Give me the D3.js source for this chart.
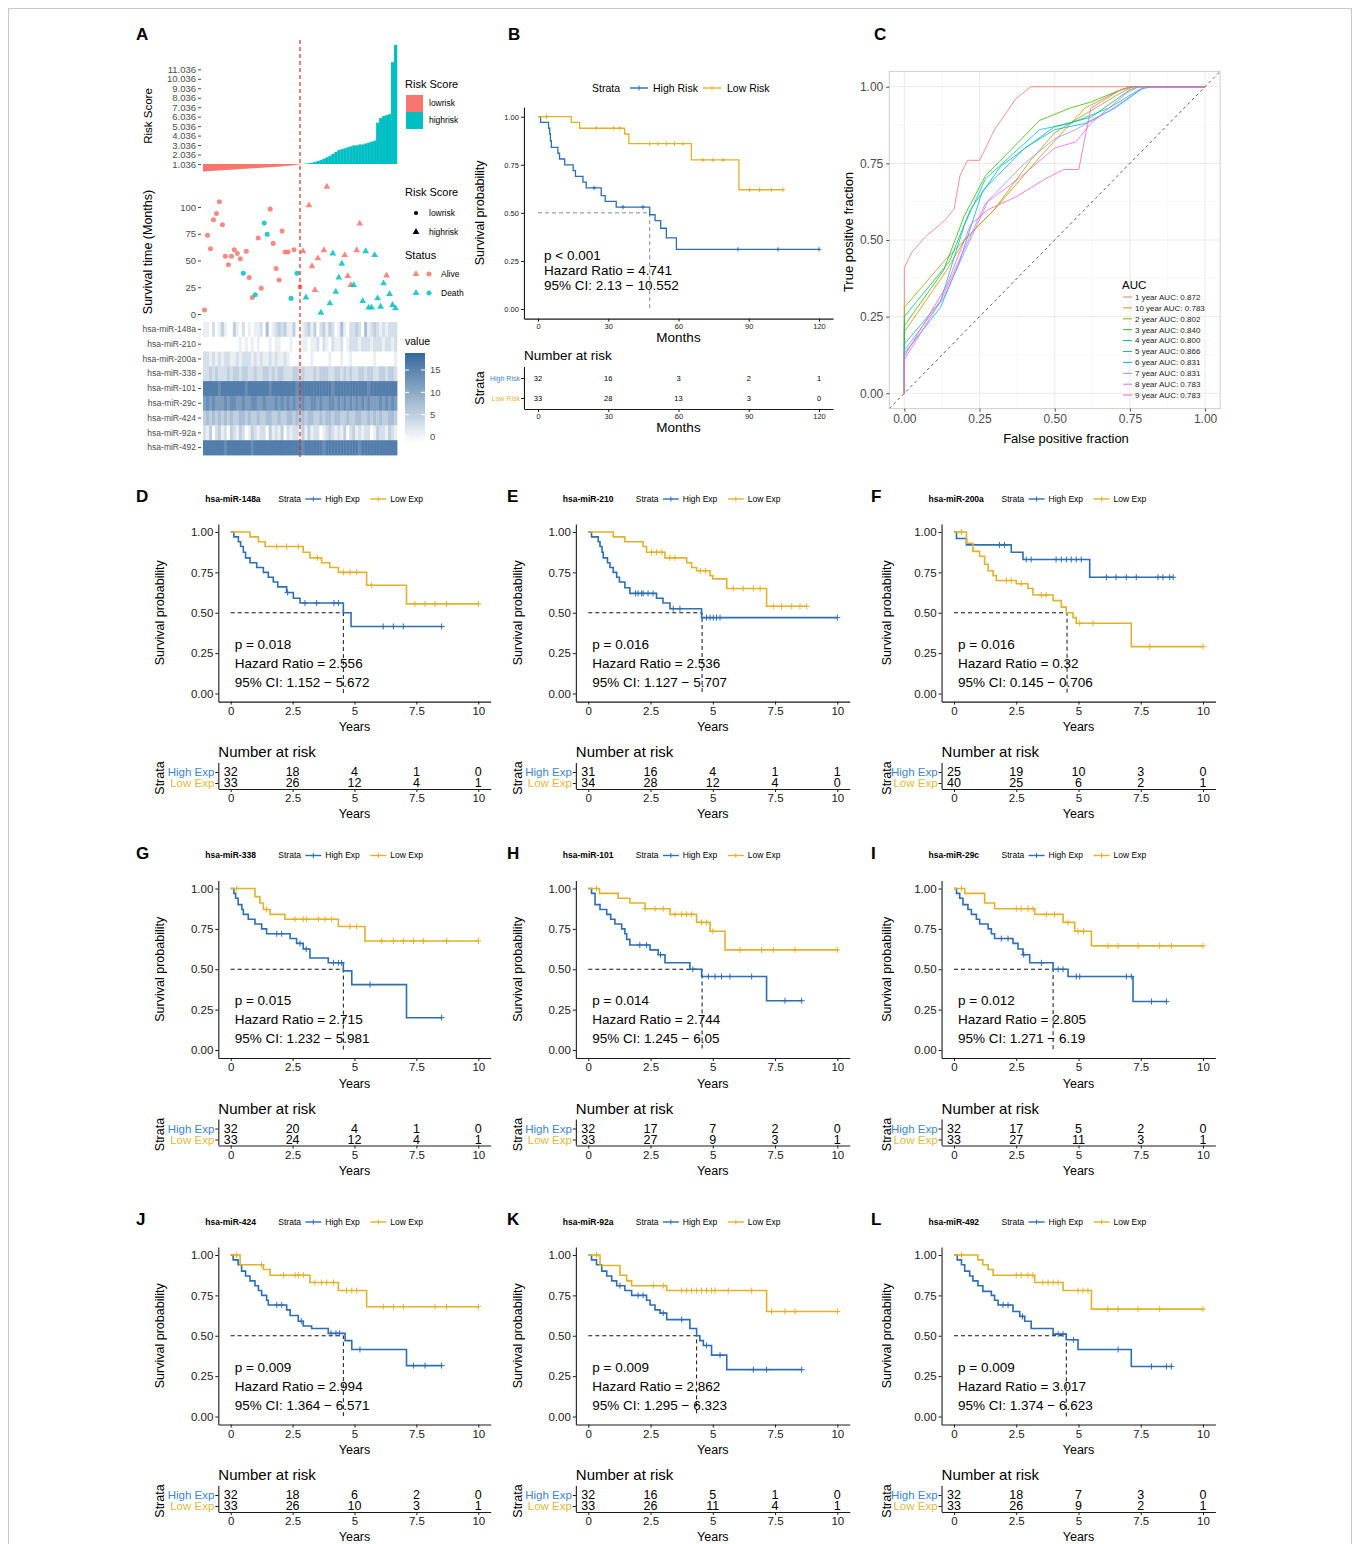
<!DOCTYPE html>
<html>
<head>
<meta charset="utf-8">
<script src="https://cdn.jsdelivr.net/npm/d3@7"></script>
<style>
  body { margin: 0; background: #fff; }
  svg { display: block; }
</style>
</head>
<body>
<svg id="fig" width="1360" height="1544"></svg>
<script>
// ---------------- Panel A data ----------------
const riskLow = [0.25,0.27,0.3,0.32,0.34,0.36,0.38,0.4,0.42,0.44,0.46,0.48,0.5,0.52,0.54,0.56,0.58,0.6,0.62,0.64,0.66,0.68,0.7,0.72,0.74,0.76,0.79,0.82,0.85,0.88,0.92,0.96,1.0];
const riskHigh = [1.05,1.08,1.12,1.18,1.25,1.35,1.45,1.6,1.75,1.9,2.1,2.3,2.5,2.6,2.7,2.8,2.9,3.0,3.0,3.1,3.1,3.2,3.3,3.4,3.5,5.4,5.9,6.1,6.2,6.3,11.8,13.6];
const riskCut = 1.036;
const riskTicks = [1.036,2.036,3.036,4.036,5.036,6.036,7.036,8.036,9.036,10.036,11.036];
const survLow = [3.7,73.6,61,88,94,105,83.5,54,46,54,60,56.5,51.6,38,58.7,34,15.5,18,71,24,85,74.5,98,66,42.5,31.7,77.6,58,58,14.6,60,38,25.5];
const survHigh = [58.7,15.5,101.5,44.7,22.4,52,1.2,59.6,119,10,56.5,20.8,34,47,55,35.4,27,27,59.6,84.5,12,58.7,6,6,55,14.6,6.8,28.6,36,18.6,8.4,5.3];
const deathLow = [0,0,0,0,0,0,0,0,0,0,0,0,0,1,0,0,0,1,0,0,1,1,0,0,0,0,0,0,0,1,0,1,0];
const deathHigh = [0,1,0,0,0,0,1,0,0,1,1,1,1,1,0,0,0,1,0,0,1,1,1,1,1,1,1,1,0,1,1,1];
const mirNames = ["hsa-miR-148a","hsa-miR-210","hsa-miR-200a","hsa-miR-338","hsa-miR-101","hsa-miR-29c","hsa-miR-424","hsa-miR-92a","hsa-miR-492"];
// one digit per patient, expression value = 2 * digit
const heatRows = [
  "11020 13100 31020 10112 04012 32311 30012 31302 31320 14102 23204 12321 21222",
  "00000 00000 00101 01010 00101 10001 00011 01120 21021 12012 22122 21222 12212",
  "22121 21221 12122 21212 11212 11210 00100 01000 00100 01001 00000 00100 00001",
  "22323 22232 33233 22322 33232 33222 33232 22323 33223 32323 22332 33223 32332",
  "88888 78888 88887 88888 88788 88888 87888 88888 88878 88888 88888 78888 88888",
  "67676 66767 76676 67766 76667 67676 76676 67767 66776 76767 67676 76667 67676",
  "34343 43434 33443 43343 34433 43344 34343 44334 34434 43343 34433 43434 33443",
  "21302 31203 21320 13212 20312 13021 22131 31220 12321 21302 31212 20132 21321",
  "88888 88788 88888 87888 88888 88888 88878 88888 78888 88888 88788 88888 88888"
];
const heatTicks = [0, 5, 10, 15];

// ---------------- Panel B data ----------------
const B_highSteps = [[0,1],[1.1,0.97],[4.5,0.94],[5,0.91],[5.3,0.875],[5.7,0.84],[8.5,0.81],[9.2,0.78],[11.4,0.75],[15,0.72],[16,0.69],[19.2,0.66],[20.6,0.63],[27,0.59],[28.7,0.56],[33.4,0.53],[47.7,0.49],[50,0.46],[52.4,0.42],[54.8,0.37],[59.1,0.31]];
const B_highCens = [24,36.3,44.8,85.4,102.5,120];
const B_lowSteps = [[0,1],[14.2,0.97],[17.8,0.94],[37,0.91],[38.8,0.86],[65.5,0.775],[85.8,0.62]];
const B_lowCens = [3.6,24.9,32.3,34.9,47.7,51.2,54.8,58.3,61.9,70.4,74.7,79,90.4,94.6,99.6,104.6];
const B_riskHigh = [32,16,3,2,1];
const B_riskLow = [33,28,13,3,0];
const B_stats = ["p < 0.001","Hazard Ratio = 4.741","95% CI: 2.13 − 10.552"];
const B_median = 47.7;
const monthTicks = [0,30,60,90,120];

// ---------------- Panel C data ----------------
const rocNames = ["1 year AUC: 0.872","10 year AUC: 0.783","2 year AUC: 0.802","3 year AUC: 0.840","4 year AUC: 0.800","5 year AUC: 0.866","6 year AUC: 0.831","7 year AUC: 0.831","8 year AUC: 0.783","9 year AUC: 0.783"];
const rocY1 = [[0,0],[0,0.41],[0.025,0.46],[0.07,0.51],[0.135,0.565],[0.165,0.6],[0.185,0.71],[0.21,0.76],[0.25,0.76],[0.3,0.86],[0.37,0.96],[0.42,1],[1,1]];
const rocY10 = [[0,0],[0,0.2],[0.14,0.4],[0.2,0.5],[0.3,0.6],[0.45,0.77],[0.6,0.93],[0.72,0.99],[0.75,1],[1,1]];
const rocY2 = [[0,0],[0,0.28],[0.14,0.44],[0.22,0.52],[0.3,0.6],[0.42,0.76],[0.5,0.85],[0.6,0.91],[0.72,0.98],[0.76,1],[1,1]];
const rocY3 = [[0,0],[0,0.22],[0.13,0.4],[0.2,0.58],[0.27,0.71],[0.45,0.89],[0.55,0.93],[0.62,0.95],[0.72,0.99],[0.76,1],[1,1]];
const rocY4 = [[0,0],[0,0.25],[0.15,0.43],[0.22,0.6],[0.32,0.74],[0.5,0.87],[0.62,0.9],[0.75,0.99],[0.78,1],[1,1]];
const rocY5 = [[0,0],[0,0.16],[0.12,0.3],[0.2,0.55],[0.27,0.7],[0.45,0.86],[0.55,0.88],[0.68,0.93],[0.78,0.99],[0.82,1],[1,1]];
const rocY6 = [[0,0],[0,0.13],[0.12,0.28],[0.18,0.42],[0.26,0.66],[0.4,0.8],[0.5,0.86],[0.6,0.88],[0.7,0.93],[0.8,1],[1,1]];
const rocY7 = [[0,0],[0,0.14],[0.13,0.31],[0.2,0.46],[0.28,0.63],[0.4,0.75],[0.5,0.83],[0.57,0.86],[0.68,0.92],[0.8,1],[1,1]];
const rocY8 = [[0,0],[0,0.11],[0.12,0.3],[0.19,0.45],[0.27,0.62],[0.38,0.7],[0.5,0.8],[0.57,0.82],[0.62,0.88],[0.74,0.98],[0.78,1],[1,1]];
const rocY9 = [[0,0],[0,0.12],[0.14,0.35],[0.22,0.55],[0.28,0.6],[0.37,0.64],[0.47,0.7],[0.53,0.73],[0.58,0.73],[0.62,0.93],[0.72,0.99],[0.76,1],[1,1]];
const rocTicks = [0,0.25,0.5,0.75,1];

// ---------------- Panels D-L data (Years) ----------------
const yearTicks = [0,2.5,5,7.5,10];

const D_highSteps = [[0,1],[0.13,0.97],[0.31,0.94],[0.4,0.91],[0.51,0.875],[0.6,0.84],[0.78,0.81],[1.05,0.78],[1.32,0.75],[1.52,0.72],[1.72,0.69],[1.9,0.66],[2.26,0.625],[2.53,0.59],[2.8,0.56],[4.55,0.5],[4.86,0.415]];
const D_highCens = [2.3,3.0,3.47,4.17,4.35,6.16,6.57,6.97,8.52];
const D_lowSteps = [[0,1],[0.78,0.97],[1.12,0.94],[1.39,0.91],[2.93,0.875],[3.2,0.84],[3.67,0.81],[4.0,0.78],[4.35,0.75],[5.49,0.67],[7.1,0.555]];
const D_lowCens = [1.86,2.26,2.73,3.5,4.55,4.82,5.09,5.69,7.44,7.85,8.25,8.72,10];
const D_riskHigh = [32,18,4,1,0], D_riskLow = [33,26,12,4,1];
const D_stats = ["p = 0.018","Hazard Ratio = 2.556","95% CI: 1.152 − 5.672"];
const D_median = 4.55;

const E_highSteps = [[0,1],[0.13,0.97],[0.4,0.94],[0.47,0.91],[0.55,0.875],[0.6,0.84],[0.77,0.81],[0.87,0.78],[1.0,0.75],[1.14,0.72],[1.25,0.69],[1.47,0.655],[1.67,0.62],[2.74,0.59],[3.0,0.56],[3.28,0.525],[4.55,0.47]];
const E_highCens = [1.9,2.0,2.14,2.2,2.4,2.6,3.41,3.68,4.75,4.89,5.02,5.15,5.29,10];
const E_lowSteps = [[0,1],[1.0,0.97],[1.47,0.94],[2.2,0.91],[2.34,0.875],[3.08,0.84],[3.95,0.81],[4.15,0.78],[4.35,0.76],[4.89,0.73],[5.0,0.71],[5.56,0.65],[7.16,0.54]];
const E_lowCens = [2.54,2.74,2.95,3.28,3.48,4.5,4.7,5.82,6.22,6.63,6.9,7.43,7.76,8.17,8.5,8.77];
const E_riskHigh = [31,16,4,1,1], E_riskLow = [34,28,12,4,0];
const E_stats = ["p = 0.016","Hazard Ratio = 2.536","95% CI: 1.127 − 5.707"];
const E_median = 4.57;

const F_highSteps = [[0,1],[0.1,0.96],[0.5,0.92],[2.3,0.875],[2.77,0.83],[5.45,0.72]];
const F_highCens = [1.83,2.03,2.9,3.1,4.1,4.31,4.51,4.71,4.91,5.11,6.12,6.51,6.92,7.32,8.19,8.39,8.66,8.8];
const F_lowSteps = [[0,1],[0.5,0.93],[0.76,0.88],[1.03,0.85],[1.23,0.8],[1.37,0.76],[1.57,0.73],[1.7,0.7],[2.5,0.68],[2.97,0.65],[3.17,0.61],[3.98,0.575],[4.31,0.535],[4.51,0.5],[4.78,0.47],[4.91,0.435],[7.12,0.29]];
const F_lowCens = [0.3,2.1,2.3,2.7,3.5,3.7,5.05,5.58,7.86,10];
const F_riskHigh = [25,19,10,3,0], F_riskLow = [40,25,6,2,1];
const F_stats = ["p = 0.016","Hazard Ratio = 0.32","95% CI: 0.145 − 0.706"];
const F_median = 4.54;

const G_highSteps = [[0,1],[0.13,0.97],[0.2,0.94],[0.3,0.9],[0.45,0.87],[0.51,0.84],[0.71,0.81],[0.98,0.78],[1.25,0.75],[1.45,0.72],[2.4,0.69],[2.66,0.66],[2.93,0.625],[3.2,0.57],[3.94,0.54],[4.55,0.49],[4.89,0.405],[7.1,0.2]];
const G_highCens = [1.86,2.06,2.8,3.05,4.15,4.35,4.48,5.63,8.52];
const G_lowSteps = [[0,1],[0.98,0.95],[1.18,0.91],[1.32,0.87],[1.59,0.84],[2.19,0.81],[4.35,0.765],[5.42,0.675]];
const G_lowCens = [0.24,1.45,2.6,2.93,3.07,3.54,3.81,4.08,4.82,5.09,6.1,6.57,6.97,7.38,7.78,8.72,10];
const G_riskHigh = [32,20,4,1,0], G_riskLow = [33,24,12,4,1];
const G_stats = ["p = 0.015","Hazard Ratio = 2.715","95% CI: 1.232 − 5.981"];
const G_median = 4.55;

const H_highSteps = [[0,1],[0.13,0.97],[0.27,0.9],[0.47,0.87],[0.74,0.84],[0.9,0.81],[1.07,0.78],[1.34,0.75],[1.47,0.72],[1.54,0.685],[1.67,0.65],[2.48,0.62],[2.81,0.59],[3.08,0.54],[4.08,0.5],[4.55,0.455],[7.16,0.305]];
const H_highCens = [2.07,2.34,2.9,4.2,4.82,5.09,5.35,5.69,6.56,7.9,8.57];
const H_lowSteps = [[0,1],[0.45,0.97],[1.2,0.94],[1.67,0.91],[2.28,0.875],[3.28,0.84],[4.35,0.79],[4.89,0.735],[5.49,0.62]];
const H_lowCens = [0.33,2.28,2.68,3.01,3.48,3.75,3.95,4.15,4.55,4.75,5.0,6.09,6.96,7.43,8.3,10];
const H_riskHigh = [32,17,7,2,0], H_riskLow = [33,27,9,3,1];
const H_stats = ["p = 0.014","Hazard Ratio = 2.744","95% CI: 1.245 − 6.05"];
const H_median = 4.57;

const I_highSteps = [[0,1],[0.1,0.97],[0.23,0.94],[0.36,0.9],[0.56,0.87],[0.7,0.84],[0.9,0.81],[1.03,0.78],[1.37,0.75],[1.5,0.72],[1.63,0.69],[2.37,0.66],[2.57,0.625],[2.77,0.59],[3.04,0.54],[3.98,0.5],[4.58,0.455],[7.19,0.3]];
const I_highCens = [1.9,2.17,2.8,3.51,4.18,4.38,4.91,5.05,6.92,7.12,7.93,8.53];
const I_lowSteps = [[0,1],[0.43,0.97],[1.23,0.91],[1.63,0.875],[3.24,0.84],[4.38,0.79],[4.85,0.735],[5.52,0.645]];
const I_lowCens = [0.3,2.5,2.7,2.97,3.17,3.71,4.04,4.58,4.98,5.2,6.18,6.59,7.39,8.26,8.73,10];
const I_riskHigh = [32,17,5,2,0], I_riskLow = [33,27,11,3,1];
const I_stats = ["p = 0.012","Hazard Ratio = 2.805","95% CI: 1.271 − 6.19"];
const I_median = 3.98;

const J_highSteps = [[0,1],[0.1,0.97],[0.3,0.94],[0.44,0.9],[0.6,0.87],[0.78,0.84],[0.98,0.81],[1.12,0.78],[1.25,0.75],[1.45,0.72],[1.52,0.69],[2.26,0.66],[2.4,0.625],[2.73,0.59],[2.93,0.56],[3.27,0.545],[3.94,0.515],[4.62,0.47],[4.89,0.415],[7.1,0.315]];
const J_highCens = [1.86,2.06,2.85,4.05,4.25,4.4,5.22,7.38,7.85,8.52];
const J_lowSteps = [[0,1],[0.38,0.94],[1.32,0.91],[1.59,0.875],[3.2,0.83],[4.35,0.78],[5.49,0.68]];
const J_lowCens = [0.24,1.25,2.13,2.6,2.73,2.93,3.4,3.67,3.88,4.15,4.68,4.89,5.09,6.16,6.57,6.97,8.25,8.72,10];
const J_riskHigh = [32,18,6,2,0], J_riskLow = [33,26,10,3,1];
const J_stats = ["p = 0.009","Hazard Ratio = 2.994","95% CI: 1.364 − 6.571"];
const J_median = 4.55;

const K_highSteps = [[0,1],[0.13,0.97],[0.33,0.94],[0.54,0.9],[0.74,0.87],[0.94,0.84],[1.14,0.81],[1.47,0.78],[1.74,0.75],[2.34,0.72],[2.48,0.69],[2.68,0.66],[2.88,0.64],[3.15,0.6],[4.08,0.545],[4.35,0.5],[4.48,0.47],[4.62,0.44],[4.95,0.38],[5.56,0.29]];
const K_highCens = [1.27,2.0,2.2,3.01,3.75,4.75,5.29,6.63,7.16,8.57];
const K_lowSteps = [[0,1],[0.47,0.935],[1.27,0.875],[1.54,0.84],[1.74,0.81],[3.15,0.78],[7.16,0.65]];
const K_lowCens = [0.33,2.61,3.01,3.75,3.95,4.15,4.35,4.55,4.75,4.95,5.09,5.62,6.56,7.36,7.9,8.3,10];
const K_riskHigh = [32,16,5,1,0], K_riskLow = [33,26,11,4,1];
const K_stats = ["p = 0.009","Hazard Ratio = 2.862","95% CI: 1.295 − 6.323"];
const K_median = 4.35;

const L_highSteps = [[0,1],[0.13,0.97],[0.3,0.94],[0.43,0.9],[0.63,0.87],[0.76,0.84],[0.96,0.81],[1.16,0.775],[1.5,0.75],[1.63,0.72],[1.77,0.69],[2.37,0.65],[2.64,0.62],[2.84,0.59],[3.1,0.545],[3.98,0.51],[4.51,0.475],[4.98,0.415],[7.12,0.31]];
const L_highCens = [1.97,2.17,2.75,4.18,4.38,4.8,6.59,7.93,8.53,8.73];
const L_lowSteps = [[0,1],[0.96,0.97],[1.16,0.94],[1.37,0.91],[1.57,0.875],[3.24,0.83],[4.38,0.78],[5.52,0.665]];
const L_lowCens = [0.3,2.5,2.7,2.97,3.17,3.57,3.78,3.98,4.18,4.98,5.18,5.38,6.18,6.59,7.39,8.26,10];
const L_riskHigh = [32,18,7,3,0], L_riskLow = [33,26,9,2,1];
const L_stats = ["p = 0.009","Hazard Ratio = 3.017","95% CI: 1.374 − 6.623"];
const L_median = 4.51;

// ---------------- styles ----------------
const FONT = '"Liberation Sans", Arial, Helvetica, sans-serif';
const RED = "#F8766D", TEAL = "#00BFC4";
const BLUE = "#2E6EB3", GOLD = "#E2B22C";
const BLUE_LAB = "#3C86CF", GOLD_LAB = "#E4B83A";
const rocColors = ["#F8766D","#D89000","#A3A500","#39B600","#00BF7D","#00BFC4","#00B0F6","#9590FF","#E76BF3","#FF62BC"];

const svg = d3.select("#fig").attr("font-family", FONT);

svg.append("rect").attr("x", 8.5).attr("y", 8.5).attr("width", 1343).attr("height", 1600)
    .attr("fill", "none").attr("stroke", "#c8c8c8");

function label(x, y, str, size, o) {
    o = o || {};
    let t = svg.append("text").attr("x", x).attr("y", y).attr("font-size", size)
        .attr("fill", o.fill || "#000").text(str);
    if (o.anchor) t.attr("text-anchor", o.anchor);
    if (o.weight) t.attr("font-weight", o.weight);
    if (o.mid) t.attr("dy", "0.35em");
    if (o.rotate) t.attr("transform", "rotate(-90," + x + "," + y + ")");
    return t;
}

function axisStyle(sel, size, fill, stroke) {
    sel.attr("font-family", FONT).attr("font-size", size);
    sel.selectAll(".tick text").attr("fill", fill);
    sel.selectAll(".tick line").attr("stroke", stroke);
    sel.select(".domain").attr("stroke", stroke);
}

function survAt(steps, t) {
    let s = 1;
    steps.forEach(function (d) { if (d[0] <= t) s = d[1]; });
    return s;
}

// panel letters
label(136, 40, "A", 17, { weight: "bold" });
label(508, 40, "B", 17, { weight: "bold" });
label(874, 40, "C", 17, { weight: "bold" });

// ================= Panel A =================
function drawPanelA() {
    let n = riskLow.length + riskHigh.length;
    let scores = riskLow.concat(riskHigh);
    let surv = survLow.concat(survHigh);
    let death = deathLow.concat(deathHigh);
    let hx = d3.scaleBand().domain(d3.range(n)).range([203, 397]);
    let bw = hx.bandwidth();

    // risk score bars
    let ry = d3.scaleLinear().domain([riskCut, 11.036]).range([164, 69.3]);
    svg.append("g").selectAll("rect").data(scores).enter().append("rect")
        .attr("x", (d, i) => hx(i))
        .attr("width", bw + 0.3)
        .attr("y", d => Math.min(ry(d), ry(riskCut)))
        .attr("height", d => Math.abs(ry(d) - ry(riskCut)))
        .attr("fill", (d, i) => i < riskLow.length ? RED : TEAL);
    let ga = svg.append("g").attr("transform", "translate(201,0)")
        .call(d3.axisLeft(ry).tickValues(riskTicks).tickFormat(d3.format(".3f")).tickSize(3).tickPadding(2));
    ga.select(".domain").remove();
    axisStyle(ga, 9.5, "#4d4d4d", "#4d4d4d");
    label(148, 116, "Risk Score", 11.5, { anchor: "middle", rotate: true, mid: true });

    // risk score legend
    label(405, 84, "Risk Score", 11, { mid: true });
    svg.append("rect").attr("x", 406).attr("y", 95).attr("width", 17).attr("height", 17).attr("fill", RED);
    svg.append("rect").attr("x", 406).attr("y", 112).attr("width", 17).attr("height", 17).attr("fill", TEAL);
    label(429, 103.5, "lowrisk", 8.5, { mid: true });
    label(429, 120.5, "highrisk", 8.5, { mid: true });

    // survival scatter
    let sy = d3.scaleLinear().domain([0, 100]).range([314, 207]);
    let circ = d3.symbol().type(d3.symbolCircle).size(20);
    let tri = d3.symbol().type(d3.symbolTriangle).size(20);
    svg.append("g").selectAll("path").data(surv).enter().append("path")
        .attr("d", (d, i) => i < riskLow.length ? circ() : tri())
        .attr("transform", (d, i) => "translate(" + (hx(i) + bw / 2) + "," + sy(d) + ")")
        .attr("fill", (d, i) => death[i] ? TEAL : RED)
        .attr("opacity", 0.85);
    let gs = svg.append("g").attr("transform", "translate(201,0)")
        .call(d3.axisLeft(sy).tickValues([0, 25, 50, 75, 100]).tickSize(3).tickPadding(2));
    gs.select(".domain").remove();
    axisStyle(gs, 9.5, "#4d4d4d", "#4d4d4d");
    label(148, 252, "Survival time (Months)", 12.5, { anchor: "middle", rotate: true, mid: true });

    // scatter legend
    label(405, 192, "Risk Score", 11, { mid: true });
    svg.append("path").attr("d", d3.symbol().type(d3.symbolCircle).size(14)()).attr("transform", "translate(416,213)");
    svg.append("path").attr("d", d3.symbol().type(d3.symbolTriangle).size(20)()).attr("transform", "translate(416,232)");
    label(429, 213, "lowrisk", 8.5, { mid: true });
    label(429, 232, "highrisk", 8.5, { mid: true });
    label(405, 255, "Status", 11, { mid: true });
    [[274, RED, "Alive"], [293, TEAL, "Death"]].forEach(function (r) {
        svg.append("path").attr("d", tri()).attr("transform", "translate(416," + r[0] + ")").attr("fill", r[1]).attr("opacity", 0.85);
        svg.append("path").attr("d", circ()).attr("transform", "translate(429," + r[0] + ")").attr("fill", r[1]).attr("opacity", 0.85);
        label(441, r[0], r[2], 8.5, { mid: true });
    });

    // heatmap
    let hy = d3.scaleBand().domain(mirNames).range([322, 455]);
    let hc = d3.scaleLinear().domain([0, 19]).range(["#ffffff", "#33669b"]);
    let cells = [];
    heatRows.forEach(function (row, r) {
        row.replace(/ /g, "").split("").forEach(function (ch, j) {
            cells.push({ r: mirNames[r], j: j, v: 2 * (+ch) });
        });
    });
    svg.append("g").selectAll("rect").data(cells).enter().append("rect")
        .attr("x", d => hx(d.j)).attr("y", d => hy(d.r))
        .attr("width", bw + 0.4).attr("height", hy.bandwidth() + 0.4)
        .attr("fill", d => hc(d.v));
    let gh = svg.append("g").attr("transform", "translate(201,0)")
        .call(d3.axisLeft(hy).tickSize(3).tickPadding(2));
    gh.select(".domain").remove();
    axisStyle(gh, 8.5, "#4d4d4d", "#4d4d4d");

    // heat legend
    label(405, 341, "value", 10.5, { mid: true });
    let grad = svg.append("defs").append("linearGradient").attr("id", "hgrad")
        .attr("x1", 0).attr("x2", 0).attr("y1", 1).attr("y2", 0);
    grad.append("stop").attr("offset", "0%").attr("stop-color", hc(-1.3));
    grad.append("stop").attr("offset", "100%").attr("stop-color", hc(18.8));
    svg.append("rect").attr("x", 405).attr("y", 353).attr("width", 20).attr("height", 90).attr("fill", "url(#hgrad)");
    let ly = d3.scaleLinear().domain([0, 15]).range([437, 370]);
    heatTicks.forEach(function (v) {
        svg.append("line").attr("x1", 405).attr("x2", 409).attr("y1", ly(v)).attr("y2", ly(v)).attr("stroke", "#fff");
        svg.append("line").attr("x1", 421).attr("x2", 425).attr("y1", ly(v)).attr("y2", ly(v)).attr("stroke", "#fff");
        label(430, ly(v), String(v), 9.5, { mid: true, fill: "#4d4d4d" });
    });

    // cutoff line
    let cx = hx(riskLow.length - 1) + bw / 2;
    svg.append("line").attr("x1", cx).attr("x2", cx).attr("y1", 40).attr("y2", 457)
        .attr("stroke", "#d7301f").attr("stroke-width", 1.2).attr("stroke-dasharray", "4,3");
}
drawPanelA();

// ================= KM drawing =================
function drawKM(P) {
    let g = svg.append("g");
    let xs = d3.scaleLinear().domain([0, P.xMax]).range([P.x0, P.x1]);
    let ys = d3.scaleLinear().domain([0, 1]).range([P.y0, P.y1]);
    let ex = 0.05 * P.xMax;
    let xAx = d3.scaleLinear().domain([-ex, P.xMax + ex]).range([xs(-ex), xs(P.xMax + ex)]);
    let yAx = d3.scaleLinear().domain([-0.05, 1.05]).range([ys(-0.05), ys(1.05)]);
    let left = xAx.range()[0], base = yAx.range()[0];

    let gy = g.append("g").attr("transform", "translate(" + left + ",0)")
        .call(d3.axisLeft(yAx).tickValues([0, 0.25, 0.5, 0.75, 1]).tickFormat(d3.format(".2f"))
            .tickSize(3).tickPadding(2).tickSizeOuter(0));
    axisStyle(gy, P.tick, "#1a1a1a", "#1a1a1a");
    let gx = g.append("g").attr("transform", "translate(0," + base + ")")
        .call(d3.axisBottom(xAx).tickValues(P.xTicks).tickFormat(d => String(d))
            .tickSize(3).tickPadding(2).tickSizeOuter(0));
    axisStyle(gx, P.tick, "#1a1a1a", "#1a1a1a");
    gy.select(".domain").attr("stroke-width", 1.1);
    gx.select(".domain").attr("stroke-width", 1.1);

    // median line
    g.append("path").attr("d", "M" + xs(0) + "," + ys(0.5) + "H" + xs(P.median) + "V" + ys(0))
        .attr("fill", "none").attr("stroke", P.medColor).attr("stroke-width", 1)
        .attr("stroke-dasharray", "4,3");

    // curves
    let line = d3.line().x(d => xs(d[0])).y(d => ys(d[1])).curve(d3.curveStepAfter);
    P.curves.forEach(function (c) {
        let pts = c.steps.slice();
        let end = Math.max(pts[pts.length - 1][0], d3.max(c.cens));
        pts.push([end, pts[pts.length - 1][1]]);
        g.append("path").datum(pts).attr("d", line).attr("fill", "none")
            .attr("stroke", c.color).attr("stroke-width", P.lw);
        let m = P.cm;
        g.append("g").selectAll("path").data(c.cens).enter().append("path")
            .attr("d", function (t) {
                let x = xs(t), y = ys(survAt(c.steps, t));
                return "M" + (x - m) + "," + y + "H" + (x + m) + "M" + x + "," + (y - m) + "V" + (y + m);
            })
            .attr("stroke", c.color).attr("stroke-width", 1).attr("fill", "none");
    });

    // stats
    P.stats.forEach(function (s, i) {
        label(P.x0 + P.statsDx, P.statsY[i], s, P.statsSize, { mid: true });
    });

    // titles
    let midX = (left + xAx.range()[1]) / 2;
    label(P.ylabX, (P.y0 + P.y1) / 2, "Survival probability", 12.5, { anchor: "middle", rotate: true, mid: true });
    label(midX, P.xlabY, P.xlab, P.xlabSize, { anchor: "middle", mid: true });

    // risk table
    label(left, P.narY, "Number at risk", P.narSize, { mid: true });
    let rs = d3.scalePoint().domain(P.names).range(P.rowY);
    P.risk.forEach(function (arr, i) {
        arr.forEach(function (n, j) {
            label(xs(P.xTicks[j]), P.rowY[i], String(n), P.numSize, { anchor: "middle", mid: true });
        });
    });
    let gt = g.append("g").attr("transform", "translate(" + left + ",0)")
        .call(d3.axisLeft(rs).tickSize(3).tickPadding(1));
    gt.select(".domain").remove();
    axisStyle(gt, P.rowLabSize, "#000", "#1a1a1a");
    gt.selectAll(".tick text").attr("fill", (d, i) => P.rowColors[i]);
    g.append("line").attr("x1", left + 0.5).attr("x2", left + 0.5).attr("y1", P.tableTop).attr("y2", P.tableAxisY)
        .attr("stroke", "#1a1a1a").attr("stroke-width", 1.1);
    let gtx = g.append("g").attr("transform", "translate(0," + P.tableAxisY + ")")
        .call(d3.axisBottom(xAx).tickValues(P.xTicks).tickFormat(d => String(d))
            .tickSize(3).tickPadding(2).tickSizeOuter(0));
    axisStyle(gtx, P.tick, "#1a1a1a", "#1a1a1a");
    gtx.select(".domain").attr("stroke-width", 1.1);
    label(midX, P.tableXlabY, P.xlab, P.xlabSize, { anchor: "middle", mid: true });
    label(P.ylabX, P.strataY, "Strata", 12.5, { anchor: "middle", rotate: true, mid: true });

    // legend
    let L = P.legend;
    if (L.gene) label(L.geneX, L.y, L.gene, L.size, { weight: "bold", mid: true });
    label(L.strataX, L.y, "Strata", L.size, { mid: true });
    [[L.sym1, BLUE, P.names[0], L.lab1], [L.sym2, GOLD, P.names[1], L.lab2]].forEach(function (e) {
        g.append("line").attr("x1", e[0]).attr("x2", e[0] + L.symW).attr("y1", L.y).attr("y2", L.y)
            .attr("stroke", e[1]).attr("stroke-width", 1.4);
        let cx = e[0] + L.symW / 2;
        g.append("line").attr("x1", cx).attr("x2", cx).attr("y1", L.y - 2.5).attr("y2", L.y + 2.5)
            .attr("stroke", e[1]).attr("stroke-width", 1);
        label(e[3], L.y, e[2], L.size, { mid: true });
    });
}

// ================= Panel B =================
drawKM({
    xMax: 120, x0: 538, x1: 819, y1: 116.7, y0: 309, xTicks: monthTicks, tick: 7.5,
    lw: 1.3, cm: 2.2, medColor: "#8a8a8a", median: B_median,
    curves: [{ steps: B_highSteps, cens: B_highCens, color: BLUE }, { steps: B_lowSteps, cens: B_lowCens, color: GOLD }],
    stats: B_stats, statsDx: 6, statsY: [255, 270, 285], statsSize: 13.5,
    ylabX: 480, xlab: "Months", xlabY: 337, xlabSize: 13.5,
    narY: 355, narSize: 13.5, names: ["High Risk", "Low Risk"], rowY: [378, 398],
    risk: [B_riskHigh, B_riskLow], numSize: 7.5, rowLabSize: 7, rowColors: [BLUE_LAB, GOLD_LAB],
    tableTop: 367, tableAxisY: 409, tableXlabY: 427, strataY: 388,
    legend: { y: 88, size: 10.5, strataX: 592, sym1: 630, sym2: 703, symW: 18, lab1: 653, lab2: 727 }
});

// ================= Panel C =================
function drawROC() {
    let xs = d3.scaleLinear().domain([-0.05, 1.05]).range([889.3, 1220.1]);
    let ys = d3.scaleLinear().domain([-0.05, 1.05]).range([408.6, 71.4]);
    let g = svg.append("g");
    let minor = [0.125, 0.375, 0.625, 0.875];
    minor.forEach(function (v) {
        g.append("line").attr("x1", xs(v)).attr("x2", xs(v)).attr("y1", ys(-0.05)).attr("y2", ys(1.05)).attr("stroke", "#f3f3f3").attr("stroke-width", 0.6);
        g.append("line").attr("x1", xs(-0.05)).attr("x2", xs(1.05)).attr("y1", ys(v)).attr("y2", ys(v)).attr("stroke", "#f3f3f3").attr("stroke-width", 0.6);
    });
    rocTicks.forEach(function (v) {
        g.append("line").attr("x1", xs(v)).attr("x2", xs(v)).attr("y1", ys(-0.05)).attr("y2", ys(1.05)).attr("stroke", "#e8e8e8").attr("stroke-width", 0.9);
        g.append("line").attr("x1", xs(-0.05)).attr("x2", xs(1.05)).attr("y1", ys(v)).attr("y2", ys(v)).attr("stroke", "#e8e8e8").attr("stroke-width", 0.9);
    });
    g.append("line").attr("x1", xs(-0.05)).attr("y1", ys(-0.05)).attr("x2", xs(1.05)).attr("y2", ys(1.05))
        .attr("stroke", "#333").attr("stroke-width", 0.8).attr("stroke-dasharray", "3,3");
    let curves = [rocY1, rocY10, rocY2, rocY3, rocY4, rocY5, rocY6, rocY7, rocY8, rocY9];
    let line = d3.line().x(d => xs(d[0])).y(d => ys(d[1]));
    curves.forEach(function (c, i) {
        g.append("path").datum(c).attr("d", line).attr("fill", "none")
            .attr("stroke", rocColors[i]).attr("stroke-width", 1).attr("stroke-opacity", 0.8);
    });
    g.append("rect").attr("x", xs(-0.05)).attr("y", ys(1.05)).attr("width", xs(1.05) - xs(-0.05))
        .attr("height", ys(-0.05) - ys(1.05)).attr("fill", "none").attr("stroke", "#cfcfcf").attr("stroke-width", 1);
    let fmt = d3.format(".2f");
    let gy = g.append("g").attr("transform", "translate(" + xs(-0.05) + ",0)")
        .call(d3.axisLeft(ys).tickValues(rocTicks).tickFormat(fmt).tickSize(3).tickPadding(3));
    gy.select(".domain").remove();
    axisStyle(gy, 12, "#4d4d4d", "#4d4d4d");
    let gx = g.append("g").attr("transform", "translate(0," + ys(-0.05) + ")")
        .call(d3.axisBottom(xs).tickValues(rocTicks).tickFormat(fmt).tickSize(3).tickPadding(3));
    gx.select(".domain").remove();
    axisStyle(gx, 12, "#4d4d4d", "#4d4d4d");
    label(1066, 438, "False positive fraction", 13, { anchor: "middle", mid: true });
    label(848, 232, "True positive fraction", 13, { anchor: "middle", rotate: true, mid: true });

    // legend
    label(1122, 285, "AUC", 11.5, { mid: true });
    rocNames.forEach(function (nm, i) {
        let y = 297 + i * 10.9;
        g.append("line").attr("x1", 1123).attr("x2", 1132).attr("y1", y).attr("y2", y)
            .attr("stroke", rocColors[i]).attr("stroke-width", 1);
        label(1135, y, nm, 8, { mid: true, fill: "#222" });
    });
}
drawROC();

// ================= Panels D-L =================
const cols = [
    { lab: 136, x0: 230.7, x1: 478.3, ylab: 160 },
    { lab: 507, x0: 588.3, x1: 837.3, ylab: 518 },
    { lab: 871, x0: 954, x1: 1203, ylab: 887 }
];
const rowTop = [532, 888.5, 1255];

const kmPanels = [
    { id: "D", gene: "hsa-miR-148a", c: 0, r: 0, hs: D_highSteps, hc: D_highCens, ls: D_lowSteps, lc: D_lowCens, rh: D_riskHigh, rl: D_riskLow, st: D_stats, med: D_median },
    { id: "E", gene: "hsa-miR-210", c: 1, r: 0, hs: E_highSteps, hc: E_highCens, ls: E_lowSteps, lc: E_lowCens, rh: E_riskHigh, rl: E_riskLow, st: E_stats, med: E_median },
    { id: "F", gene: "hsa-miR-200a", c: 2, r: 0, hs: F_highSteps, hc: F_highCens, ls: F_lowSteps, lc: F_lowCens, rh: F_riskHigh, rl: F_riskLow, st: F_stats, med: F_median },
    { id: "G", gene: "hsa-miR-338", c: 0, r: 1, hs: G_highSteps, hc: G_highCens, ls: G_lowSteps, lc: G_lowCens, rh: G_riskHigh, rl: G_riskLow, st: G_stats, med: G_median },
    { id: "H", gene: "hsa-miR-101", c: 1, r: 1, hs: H_highSteps, hc: H_highCens, ls: H_lowSteps, lc: H_lowCens, rh: H_riskHigh, rl: H_riskLow, st: H_stats, med: H_median },
    { id: "I", gene: "hsa-miR-29c", c: 2, r: 1, hs: I_highSteps, hc: I_highCens, ls: I_lowSteps, lc: I_lowCens, rh: I_riskHigh, rl: I_riskLow, st: I_stats, med: I_median },
    { id: "J", gene: "hsa-miR-424", c: 0, r: 2, hs: J_highSteps, hc: J_highCens, ls: J_lowSteps, lc: J_lowCens, rh: J_riskHigh, rl: J_riskLow, st: J_stats, med: J_median },
    { id: "K", gene: "hsa-miR-92a", c: 1, r: 2, hs: K_highSteps, hc: K_highCens, ls: K_lowSteps, lc: K_lowCens, rh: K_riskHigh, rl: K_riskLow, st: K_stats, med: K_median },
    { id: "L", gene: "hsa-miR-492", c: 2, r: 2, hs: L_highSteps, hc: L_highCens, ls: L_lowSteps, lc: L_lowCens, rh: L_riskHigh, rl: L_riskLow, st: L_stats, med: L_median }
];

kmPanels.forEach(function (p) {
    let col = cols[p.c], y1 = rowTop[p.r];
    let axisX = col.x0 - 0.05 * (col.x1 - col.x0);
    label(col.lab, y1 - 30, p.id, 17, { weight: "bold" });
    drawKM({
        xMax: 10, x0: col.x0, x1: col.x1, y1: y1, y0: y1 + 161.5, xTicks: yearTicks, tick: 11.5,
        lw: 1.6, cm: 3, medColor: "#111", median: p.med,
        curves: [{ steps: p.hs, cens: p.hc, color: BLUE }, { steps: p.ls, cens: p.lc, color: GOLD }],
        stats: p.st, statsDx: 4, statsY: [y1 + 112, y1 + 131, y1 + 150], statsSize: 13.5,
        ylabX: col.ylab, xlab: "Years", xlabY: y1 + 195, xlabSize: 12.5,
        narY: y1 + 220, narSize: 15, names: ["High Exp", "Low Exp"], rowY: [y1 + 240, y1 + 251],
        risk: [p.rh, p.rl], numSize: 12.5, rowLabSize: 11.5, rowColors: [BLUE_LAB, GOLD_LAB],
        tableTop: y1 + 231, tableAxisY: y1 + 257, tableXlabY: y1 + 282, strataY: y1 + 246,
        legend: {
            y: y1 - 33, size: 8.5, gene: p.gene, geneX: axisX - 13, strataX: axisX + 60,
            sym1: axisX + 87, sym2: axisX + 152, symW: 16, lab1: axisX + 107, lab2: axisX + 172
        }
    });
});
</script>
</body>
</html>
